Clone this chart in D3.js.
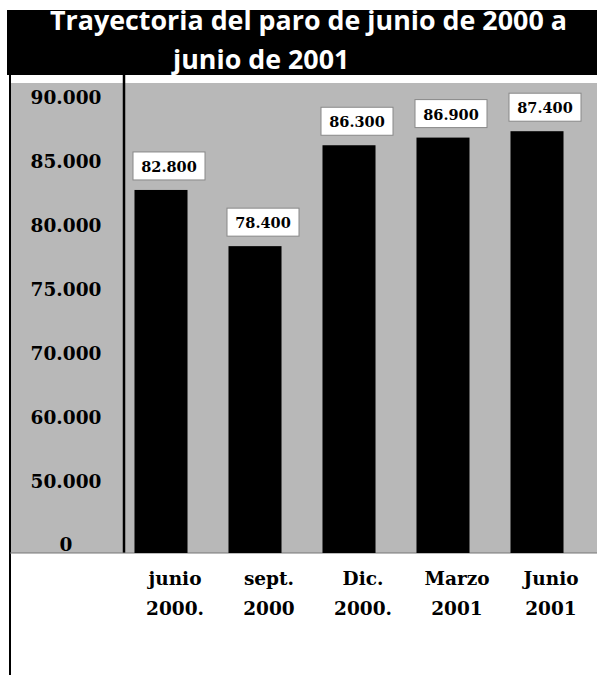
<!DOCTYPE html>
<html>
<head>
<meta charset="utf-8">
<script src="https://cdn.jsdelivr.net/npm/d3@7"></script>
<style>
  body { margin: 0; background: #fff; }
  .serif { font-family: "DejaVu Serif", "Liberation Serif", serif; font-weight: bold; fill: #000; }
</style>
</head>
<body>
<script>
var w = 597;
var h = 675;

// datos
var months = ['junio', 'sept.', 'Dic.', 'Marzo', 'Junio'];
var years = ['2000.', '2000', '2000.', '2001', '2001'];
var paro = [82800, 78400, 86300, 86900, 87400];
var yTicks = [0, 50000, 60000, 70000, 75000, 80000, 85000, 90000];

var fmt = d3.formatLocale({ decimal: ',', thousands: '.', grouping: [3], currency: ['', ''] }).format(',');

var plotTop = 83, plotBottom = 553;

var svg = d3.select('body').append('svg')
  .attr('width', w)
  .attr('height', h);

// fondo gris
svg.append('rect')
  .attr('x', 10).attr('y', plotTop)
  .attr('width', w - 10).attr('height', plotBottom - plotTop)
  .attr('fill', '#b8b8b8');

// titulo
svg.append('rect')
  .attr('x', 7).attr('y', 10)
  .attr('width', w - 7).attr('height', 65)
  .attr('fill', '#000');

var t1 = svg.append('text')
  .attr('x', 50).attr('y', 30)
  .attr('fill', '#fff')
  .style('font-family', '"Open Sans", "Noto Sans", sans-serif')
  .style('font-weight', 'bold')
  .style('font-size', '24px')
  .text('Trayectoria del paro de junio de 2000 a');
var fs = 24 * 517 / t1.node().getComputedTextLength();
t1.style('font-size', fs + 'px');

svg.append('text')
  .attr('x', 173).attr('y', 69)
  .attr('fill', '#fff')
  .style('font-family', '"Open Sans", "Noto Sans", sans-serif')
  .style('font-weight', 'bold')
  .style('font-size', fs + 'px')
  .text('junio de 2001');

// escalas
var y = d3.scaleLinear()
  .domain(yTicks)
  .range(yTicks.map(function(d, i) { return 545 - i * (545 - 98) / (yTicks.length - 1); }));

var x = d3.scaleBand()
  .domain(months.map(function(d, i) { return i; }))
  .range([114, 584])
  .paddingInner(0.436)
  .paddingOuter(0.218);

// eje y
var yAxis = svg.append('g')
  .attr('transform', 'translate(66,0)')
  .call(d3.axisLeft(y).tickValues(yTicks).tickSize(0).tickPadding(0).tickFormat(fmt));
yAxis.select('.domain').remove();
yAxis.selectAll('text')
  .attr('class', 'serif')
  .attr('text-anchor', 'middle')
  .style('font-size', '18.5px');

// lineas
svg.append('line')
  .attr('x1', 10).attr('x2', 10).attr('y1', 75).attr('y2', h)
  .attr('stroke', '#000').attr('stroke-width', 2);
svg.append('line')
  .attr('x1', 124).attr('x2', 124).attr('y1', 75).attr('y2', plotBottom)
  .attr('stroke', '#000').attr('stroke-width', 2.5);
svg.append('line')
  .attr('x1', 10).attr('x2', w).attr('y1', plotBottom).attr('y2', plotBottom)
  .attr('stroke', '#777').attr('stroke-width', 1);

// barras
svg.selectAll('rect.bar')
  .data(paro)
  .enter()
  .append('rect')
  .attr('class', 'bar')
  .attr('x', function(d, i) { return x(i); })
  .attr('y', function(d) { return y(d); })
  .attr('width', x.bandwidth())
  .attr('height', function(d) { return plotBottom - y(d); })
  .attr('fill', '#000');

// etiquetas de valor
var lab = svg.selectAll('g.lab')
  .data(paro)
  .enter()
  .append('g')
  .attr('class', 'lab')
  .attr('transform', function(d, i) {
    return 'translate(' + (x(i) + x.bandwidth() / 2 + 8) + ',' + (y(d) - 10) + ')';
  });
lab.append('rect')
  .attr('x', -36).attr('y', -28)
  .attr('width', 72).attr('height', 28)
  .attr('fill', '#fff')
  .attr('stroke', '#888').attr('stroke-width', 1);
lab.append('text')
  .attr('class', 'serif')
  .attr('text-anchor', 'middle')
  .attr('y', -8)
  .style('font-size', '14.5px')
  .text(function(d) { return fmt(d); });

// etiquetas eje x
var xl = svg.selectAll('text.xl')
  .data(months)
  .enter()
  .append('text')
  .attr('class', 'serif xl')
  .attr('text-anchor', 'middle')
  .attr('x', function(d, i) { return x(i) + x.bandwidth() / 2 + 14; })
  .attr('y', 585)
  .style('font-size', '18.5px');
xl.append('tspan').text(function(d) { return d; });
xl.append('tspan')
  .attr('x', function(d, i) { return x(i) + x.bandwidth() / 2 + 14; })
  .attr('dy', 30)
  .text(function(d, i) { return years[i]; });
</script>
</body>
</html>
